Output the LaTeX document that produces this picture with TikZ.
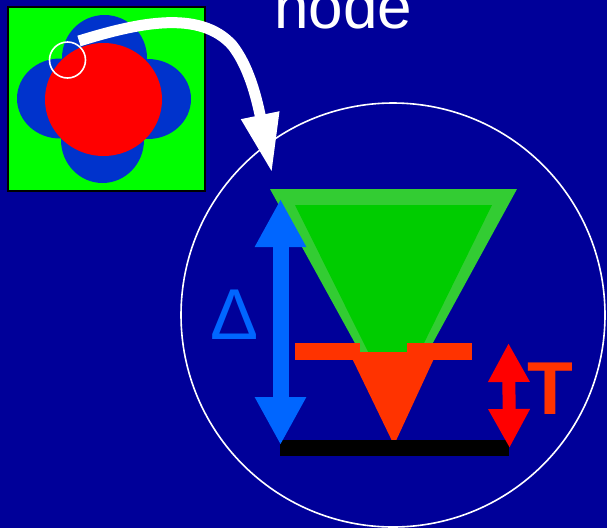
\documentclass[tikz,border=0pt]{standalone}
\usepackage{fontspec}
\setmainfont{Liberation Sans}
\usetikzlibrary{arrows.meta}
\definecolor{NightBlue}{HTML}{000099}
\definecolor{Lime}{HTML}{00FF00}
\definecolor{LobeBlue}{HTML}{0033CC}
\definecolor{PaleGreen}{HTML}{33CC33}
\definecolor{DeepGreen}{HTML}{00CC00}
\definecolor{Flame}{HTML}{FF3300}
\definecolor{SkyBlue}{HTML}{0066FF}

\begin{document}
\begin{tikzpicture}[x=1pt,y=-1pt,
  lobe/.style={fill=LobeBlue},
  ring/.style={draw=white,line width=1.6pt},
  bigarr/.style={-{Triangle[length=59pt,width=36pt]},line width=11pt,white},
  gaparr/.style={{Triangle[length=48pt,width=48pt]}-{Triangle[length=48pt,width=48pt]},line width=16pt,SkyBlue},
  temparr/.style={{Triangle[length=39pt,width=39pt]}-{Triangle[length=39pt,width=39pt]},line width=13pt,red},
  bigtext/.style={inner sep=0pt,anchor=base}
]
\fill[NightBlue] (0,0) rectangle (607,528);
\useasboundingbox (0,0) rectangle (607,528);
\clip (0,0) rectangle (607,528);

% the grain
\draw[fill=Lime,line width=2pt] (8,7) rectangle (205,191);
\fill[lobe] (104.5,58) ellipse [x radius=42.5,y radius=43];
\fill[lobe] (102.5,140) ellipse [x radius=41.5,y radius=43];
\fill[lobe] (60,98.5) ellipse [x radius=43,y radius=40];
\fill[lobe] (148,99) ellipse [x radius=43,y radius=40];
\fill[red] (103.5,99.5) ellipse [x radius=58.5,y radius=56.5];
\draw[ring] (67.5,60) circle [radius=18];

% zoom arrow
\coordinate (arrstart) at (79,41);
\coordinate (arrbend) at (232,45);
\coordinate (arrend) at (272,173);
\draw[bigarr] (arrstart) .. controls (140,22) and (200,10) .. (arrbend)
  .. controls (248,65) and (256,95) .. (arrend);

\node[bigtext,text=white,font=\fontsize{62}{62}\selectfont,anchor=base west] (title) at (274,28) {node};

% the node
\draw[ring] (393,315) circle [radius=212];
\fill[PaleGreen] (270,189) -- (517,189) -- (394,414) -- cycle;
\fill[DeepGreen] (295,205) -- (492,205) -- (394,404) -- cycle;
\fill[Flame] (295,343) rectangle (360,360);
\fill[Flame] (407,343) rectangle (472,360);
\fill[Flame] (349,352) -- (437,352) -- (394,445) -- cycle;
\fill[black] (280,440) rectangle (509,456);

\coordinate (gaptop) at (280.5,199);
\coordinate (gapbot) at (280.5,445);
\draw[gaparr] (gaptop) -- (gapbot);
\coordinate (temptop) at (508.5,343);
\coordinate (tempbot) at (509.5,448);
\draw[temparr] (temptop) -- (tempbot);

\node[bigtext,text=SkyBlue,font=\fontsize{72}{72}\selectfont] (gaplabel) at (234.5,339) {Δ};
\node[bigtext,text=Flame,font=\fontsize{75}{75}\selectfont\bfseries] (templabel) at (550,414) {T};
\end{tikzpicture}
\end{document}
